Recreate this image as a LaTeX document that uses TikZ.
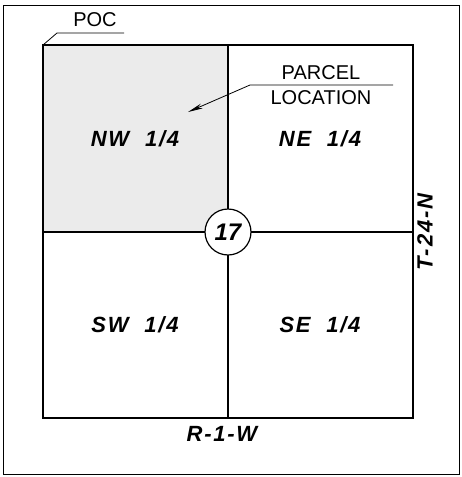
\documentclass[tikz,border=0pt]{standalone}
\usepackage{fontspec}
\setmainfont{Liberation Sans}
\usetikzlibrary{arrows.meta}
\begin{document}
\begin{tikzpicture}[x=1pt,y=-1pt,line width=1.2pt,
  quarter/.style={font=\fontsize{22}{24}\selectfont\bfseries\itshape\addfontfeature{LetterSpace=8}},
  note/.style={font=\fontsize{20}{22}\selectfont,inner sep=0pt}]
\useasboundingbox (0,0) rectangle (462,477);
\draw[line width=0.8pt] (3,5) rectangle (459,474);
\fill[black!8] (43,45) rectangle (228,232);
\draw (43,45) rectangle (413,418);
\draw (228,45) -- (228,418) (43,232) -- (413,232);
\node[circle,draw,fill=white,minimum size=46pt,inner sep=0pt,quarter,font=\fontsize{24}{26}\selectfont\bfseries\itshape] (sec) at (228,232) {17};
\node[quarter] (nw) at (135,139) {NW\ \ 1/4};
\node[quarter] (ne) at (320,139) {NE\ \ 1/4};
\node[quarter] (sw) at (135,325) {SW\ \ 1/4};
\node[quarter] (se) at (320,325) {SE\ \ 1/4};
\node[quarter,rotate=90] (twp) at (425,232) {T-24-N};
\node[quarter] (rng) at (222,434) {R-1-W};
% leaders
\coordinate (pocpt) at (43,45);
\node[note] (poc) at (95,20) {POC};
\draw[line width=0.8pt] (pocpt) -- ++(14,-12) -- ++(67,0);
\node[note,anchor=south] (parcel) at (321,80) {PARCEL};
\node[note,anchor=north] (loc) at (321,90) {LOCATION};
\coordinate (tip) at (188,112);
\draw[line width=0.8pt,-{Stealth[length=15pt,width=5pt]}] (393,85) -- (250,85) -- (tip);
\end{tikzpicture}
\end{document}
